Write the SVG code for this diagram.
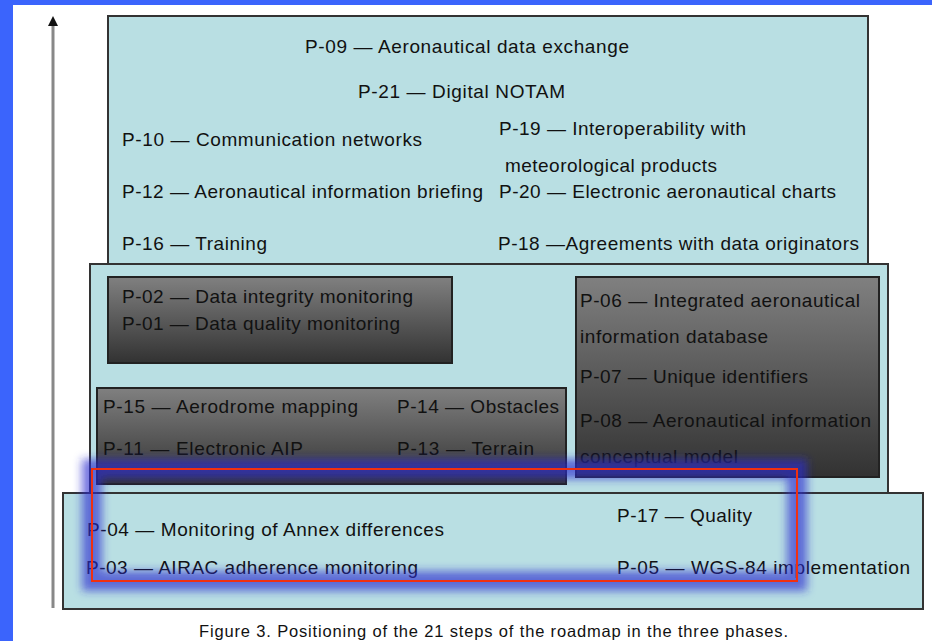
<svg xmlns="http://www.w3.org/2000/svg" width="932" height="641" viewBox="0 0 932 641">
<style>
.lb{fill:#b9dfe3;stroke:#333;stroke-width:2}
.dk{fill:url(#dg);stroke:#222;stroke-width:2}
text{font-family:"Liberation Sans",Arial,sans-serif;font-size:19px;fill:#111}
.cap{font-size:16.5px}
</style>
<defs>
<linearGradient id="dg" x1="0" y1="0" x2="0" y2="1">
<stop offset="0" stop-color="#808080"/>
<stop offset="1" stop-color="#323232"/>
</linearGradient>
<filter id="blur" x="-20%" y="-40%" width="140%" height="180%">
<feGaussianBlur stdDeviation="4"/>
</filter>
</defs>
<rect x="0" y="0" width="932" height="641" fill="#fff"/>
<rect x="0" y="0" width="932" height="5" fill="#3b64fc"/>
<rect x="0" y="0" width="13" height="641" fill="#3b64fc"/>

<g id="connectors">
<line x1="53" y1="608" x2="53" y2="26" stroke="#888" stroke-width="3"/>
<path d="M48,26 L53,16 L58,26 Z" fill="#111"/>
</g>

<g id="phase3">
<rect class="lb" x="108" y="16" width="760" height="249"/>
<text x="305" y="53" textLength="324">P-09 — Aeronautical data exchange</text>
<text x="358" y="98" textLength="207">P-21 — Digital NOTAM</text>
<text x="122" y="146" textLength="300">P-10 — Communication networks</text>
<text x="122" y="198" textLength="361">P-12 — Aeronautical information briefing</text>
<text x="122" y="250" textLength="145">P-16 — Training</text>
<text x="499" y="135" textLength="247">P-19 — Interoperability with</text>
<text x="505" y="172" textLength="212">meteorological products</text>
<text x="499" y="198" textLength="337">P-20 — Electronic aeronautical charts</text>
<text x="498" y="250" textLength="361">P-18 —Agreements with data originators</text>
</g>

<g id="phase2">
<rect class="lb" x="90" y="264" width="798" height="229"/>
</g>

<g id="group-p02-p01">
<rect class="dk" x="108" y="277" width="344" height="86"/>
<text x="122" y="303" textLength="291">P-02 — Data integrity monitoring</text>
<text x="122" y="330" textLength="278">P-01 — Data quality monitoring</text>
</g>

<g id="group-p15-p13">
<rect class="dk" x="97" y="388" width="469" height="96"/>
<text x="103" y="413" textLength="255">P-15 — Aerodrome mapping</text>
<text x="103" y="455" textLength="200">P-11 — Electronic AIP</text>
<text x="397" y="413" textLength="162">P-14 — Obstacles</text>
<text x="397" y="455" textLength="137">P-13 — Terrain</text>
</g>

<g id="group-p06-p08">
<rect class="dk" x="576" y="277" width="303" height="200"/>
<text x="580" y="307" textLength="280">P-06 — Integrated aeronautical</text>
<text x="580" y="343" textLength="188">information database</text>
<text x="580" y="383" textLength="228">P-07 — Unique identifiers</text>
<text x="580" y="427" textLength="291">P-08 — Aeronautical information</text>
<text x="580" y="463" textLength="158">conceptual model</text>
</g>

<g id="phase1">
<rect class="lb" x="63" y="493" width="860" height="116"/>
<text x="87" y="536" textLength="357">P-04 — Monitoring of Annex differences</text>
<text x="86" y="574" textLength="332">P-03 — AIRAC adherence monitoring</text>
<text x="617" y="522" textLength="135">P-17 — Quality</text>
<text x="617" y="574" textLength="293">P-05 — WGS-84 implementation</text>
</g>

<g id="highlight">
<rect x="92" y="469" width="705" height="112" fill="none" stroke="#2a2ad0" stroke-opacity="0.65" stroke-width="20" filter="url(#blur)"/>
<rect x="92" y="469" width="705" height="112" fill="none" stroke="#f03010" stroke-width="2"/>
</g>

<text class="cap" x="199" y="637" textLength="589">Figure 3. Positioning of the 21 steps of the roadmap in the three phases.</text>
</svg>
